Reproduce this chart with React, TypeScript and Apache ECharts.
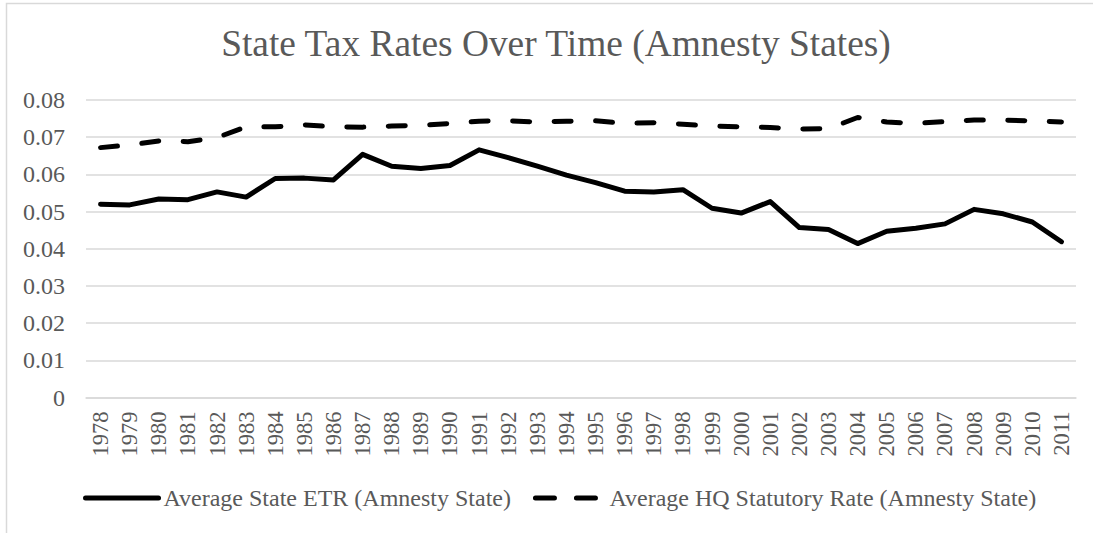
import React, { useEffect, useRef } from "react";
import * as echarts from "echarts";

const years = [
  "1978", "1979", "1980", "1981", "1982", "1983", "1984", "1985", "1986", "1987",
  "1988", "1989", "1990", "1991", "1992", "1993", "1994", "1995", "1996", "1997",
  "1998", "1999", "2000", "2001", "2002", "2003", "2004", "2005", "2006", "2007",
  "2008", "2009", "2010", "2011",
];

const etr = [
  0.0520, 0.0518, 0.0534, 0.0532, 0.0553, 0.0539, 0.0589, 0.0590, 0.0585, 0.0654,
  0.0622, 0.0616, 0.0624, 0.0666, 0.0645, 0.0622, 0.0598, 0.0578, 0.0555, 0.0553,
  0.0559, 0.0509, 0.0496, 0.0527, 0.0457, 0.0452, 0.0414, 0.0447, 0.0455, 0.0467,
  0.0506, 0.0494, 0.0472, 0.0419,
];

const hq = [
  0.0672, 0.0679, 0.0690, 0.0688, 0.0699, 0.0728, 0.0728, 0.0733, 0.0728, 0.0727,
  0.0730, 0.0732, 0.0737, 0.0743, 0.0744, 0.0741, 0.0743, 0.0744, 0.0737, 0.0739,
  0.0735, 0.0730, 0.0728, 0.0726, 0.0722, 0.0723, 0.0753, 0.0741, 0.0737, 0.0742,
  0.0746, 0.0746, 0.0744, 0.0741,
];

const titleText = "State Tax Rates Over Time (Amnesty States)";
const etrName = "Average State ETR (Amnesty State)";
const hqName = "Average HQ Statutory Rate (Amnesty State)";

const FONT = '"Liberation Serif", "Times New Roman", serif';
const TEXT = "#595959";
const GRID = "#d9d9d9";

export default function App() {
  const ref = useRef<HTMLDivElement>(null);

  useEffect(() => {
    document.body.style.margin = "0";
    if (!ref.current) return;
    const chart = echarts.init(ref.current, undefined, { renderer: "svg" });
    chart.setOption({
      animation: false,
      backgroundColor: "#ffffff",
      graphic: [
        {
          type: "rect",
          shape: { x: 6.5, y: 3.5, width: 1300, height: 800 },
          style: { fill: "none", stroke: GRID, lineWidth: 1.5 },
          silent: true,
        },
        {
          type: "text",
          x: 556,
          y: 43,
          style: {
            text: titleText,
            fontFamily: FONT,
            fontSize: 37.4,
            fill: TEXT,
            textAlign: "center",
            textVerticalAlign: "middle",
          },
          silent: true,
        },
      ],
      grid: { left: 86, right: 17, top: 100, bottom: 135.4, containLabel: false },
      legend: {
        left: 78,
        top: 481,
        itemWidth: 73,
        itemHeight: 14,
        itemGap: 18,
        itemStyle: { opacity: 0 },
        lineStyle: { width: 5, cap: "round" },
        textStyle: { fontFamily: FONT, fontSize: 24, color: TEXT },
        data: [
          { name: etrName },
          {
            name: hqName,
            lineStyle: { width: 5, type: [19, 22], dashOffset: 37, cap: "round" },
          },
        ],
      },
      xAxis: {
        type: "category",
        data: years,
        boundaryGap: true,
        axisLine: { show: true, lineStyle: { color: GRID, width: 1.5 } },
        axisTick: { show: false },
        axisLabel: {
          rotate: 90,
          margin: 14,
          interval: 0,
          fontFamily: FONT,
          fontSize: 22.5,
          color: TEXT,
        },
      },
      yAxis: {
        type: "value",
        min: 0,
        max: 0.08,
        interval: 0.01,
        axisLine: { show: false },
        axisTick: { show: false },
        splitLine: { lineStyle: { color: GRID, width: 1.5 } },
        axisLabel: {
          margin: 21,
          fontFamily: FONT,
          fontSize: 24,
          color: TEXT,
          formatter: (v: number) => (v === 0 ? "0" : v.toFixed(2)),
        },
      },
      series: [
        {
          name: etrName,
          type: "line",
          data: etr,
          symbol: "none",
          lineStyle: { color: "#000000", width: 5, cap: "round", join: "round" },
          itemStyle: { color: "#000000" },
        },
        {
          name: hqName,
          type: "line",
          data: hq,
          symbol: "none",
          lineStyle: {
            color: "#000000",
            width: 5,
            type: [17, 24.5],
            cap: "round",
            join: "round",
          },
          itemStyle: { color: "#000000" },
        },
      ],
    });
    return () => chart.dispose();
  }, []);

  return <div ref={ref} style={{ width: 1093, height: 533 }} />;
}
